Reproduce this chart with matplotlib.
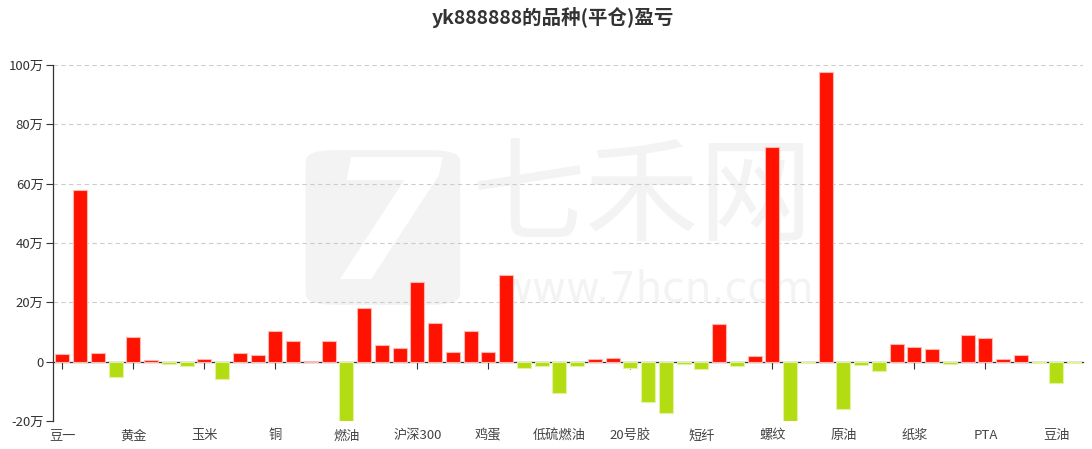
import matplotlib
matplotlib.use("Agg")
import matplotlib.pyplot as plt
from matplotlib.patches import FancyBboxPatch
import numpy as np

plt.rcParams['font.family'] = ['Noto Sans CJK SC', 'DejaVu Sans']

# profit/loss per product, unit: 万
values = [2.7, 58.0, 2.9, -5.3, 8.3, 0.7, -0.9, -1.6, 0.9, -5.9,
          3.0, 2.4, 10.3, 7.0, 0.2, 7.0, -20.0, 18.2, 5.6, 4.7,
          26.9, 13.0, 3.1, 10.3, 3.3, 29.3, -2.0, -1.6, -10.5, -1.3,
          0.9, 1.1, -2.2, -13.6, -17.4, -0.9, -2.5, 12.8, -1.3, 1.8,
          72.3, -20.0, -0.3, 97.6, -15.8, -1.2, -3.1, 6.1, 4.9, 4.4,
          -0.8, 8.9, 8.1, 1.0, 2.2, -0.3, -7.2, -0.4]
tick_labels = ['豆一', '黄金', '玉米', '铜', '燃油', '沪深300', '鸡蛋', '低硫燃油',
               '20号胶', '短纤', '螺纹', '原油', '纸浆', 'PTA', '豆油']
label_step = 4
yticks = [-20, 0, 20, 40, 60, 80, 100]
title = 'yk888888的品种(平仓)盈亏'

RED = '#FF1200'
GREEN = '#B3DD12'

fig = plt.figure(figsize=(10.92, 4.49), dpi=100)
ax = fig.add_axes([0.0489, 0.0624, 0.9429, 0.7928])

x = np.arange(len(values))
colors = [RED if v >= 0 else GREEN for v in values]
edges = ['#FFB8B0' if v >= 0 else '#E2F3A0' for v in values]
ax.bar(x, values, width=0.79, color=colors, edgecolor=edges, linewidth=0.8, zorder=3)

ax.set_xlim(-0.5, len(values) - 0.5)
ax.set_ylim(-20, 100)
ax.set_yticks(yticks)
ax.set_yticklabels([('0' if v == 0 else f'{v}万') for v in yticks])
ax.yaxis.grid(True, linestyle=(0, (4, 3)), color='#cccccc', linewidth=0.8, zorder=0)
ax.tick_params(axis='y', colors='#333333', labelcolor='#333333', labelsize=9.5,
               length=5, width=0.8, pad=2)

for s in ['top', 'right']:
    ax.spines[s].set_visible(False)
ax.spines['left'].set_color('#333333')
ax.spines['left'].set_linewidth(0.9)

# main x axis: zero line with ticks, no labels
ax.spines['bottom'].set_position(('data', 0))
ax.spines['bottom'].set_color('#333333')
ax.spines['bottom'].set_linewidth(0.9)
tick_pos = x[::label_step]
ax.set_xticks(tick_pos)
ax.set_xticklabels([''] * len(tick_pos))
ax.tick_params(axis='x', direction='out', length=5, width=0.8, colors='#333333')

# labels at bottom of plot
sec = ax.secondary_xaxis('bottom')
sec.set_xticks(tick_pos)
sec.set_xticklabels(tick_labels)
sec.tick_params(axis='x', length=0, pad=6, labelsize=9.5, labelcolor='#444444')
sec.spines['bottom'].set_visible(False)

# watermark
wm = '#f3f3f3'
logo = FancyBboxPatch((0.245, 0.326), 0.15, 0.435, boxstyle='round,pad=0,rounding_size=0.03',
                      transform=ax.transAxes, facecolor=wm, edgecolor='none', zorder=1)
ax.add_patch(logo)
ax.text(0.322, 0.53, '7', transform=ax.transAxes, fontsize=120, color='white',
        ha='center', va='center', fontweight='bold', family=['DejaVu Sans'],
        style='italic', zorder=1.5)
ax.text(0.572, 0.62, '七禾网', transform=ax.transAxes, fontsize=82, color=wm,
        ha='center', va='center', zorder=1)
ax.text(0.585, 0.368, 'www.7hcn.com', transform=ax.transAxes, fontsize=30, color=wm,
        ha='center', va='center', family=['DejaVu Sans'], zorder=1)

fig.text(0.506, 0.962, title, ha='center', va='center', fontsize=14,
         fontweight='bold', color='#333333')

fig.savefig('out.png', dpi=100)
